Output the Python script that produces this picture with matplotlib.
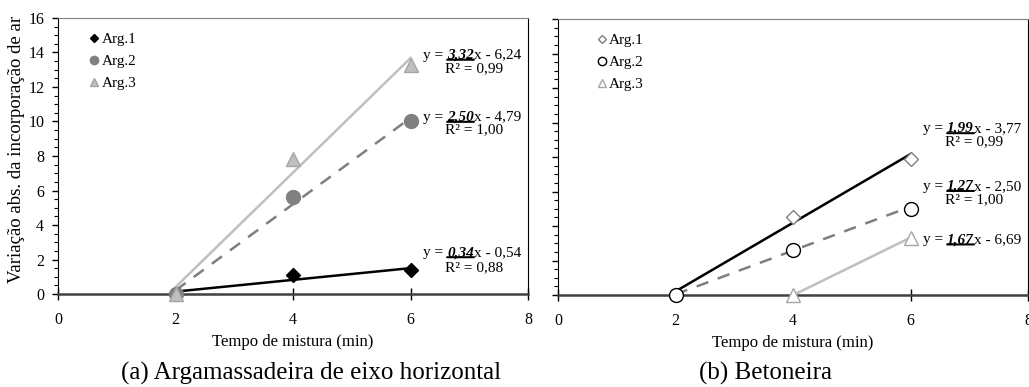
import numpy as np
import matplotlib
matplotlib.use("Agg")
import matplotlib.pyplot as plt
from matplotlib.ticker import MultipleLocator

plt.rcParams['font.family'] = ['Liberation Serif', 'DejaVu Serif']

# tempo de mistura (min)
tempo = [2, 4, 6]

# (a) argamassadeira de eixo horizontal
a_arg1 = [0.0, 1.1, 1.4]
a_arg2 = [0.0, 5.6, 10.0]
a_arg3 = [0.0, 7.8, 13.3]
a_slope = [0.34, 2.50, 3.32]
a_inter = [-0.54, -4.79, -6.24]
a_r2 = ["0,88", "1,00", "0,99"]

# (b) betoneira
b_arg1 = [0.0, 4.5, 7.9]
b_arg2 = [0.0, 2.6, 5.0]
b_arg3 = [np.nan, 0.0, 3.3]
b_slope = [1.99, 1.27, 1.67]
b_inter = [-3.77, -2.50, -6.69]
b_r2 = ["0,99", "1,00", None]

nomes = ["Arg.1", "Arg.2", "Arg.3"]

# estilos
line_col = ["black", "#7f7f7f", "#bfbfbf"]
line_ls = ["-", (0, (5, 4)), "-"]
a_mk = [dict(marker='D', ms=7, mfc='black', mec='black'),
        dict(marker='o', ms=10, mfc='#808080', mec='#808080'),
        dict(marker='^', ms=10, mfc='#bfbfbf', mec='#a6a6a6')]
b_mk = [dict(marker='D', ms=7, mfc='white', mec='#808080', mew=1),
        dict(marker='o', ms=10, mfc='white', mec='black', mew=1),
        dict(marker='^', ms=10, mfc='white', mec='#a6a6a6', mew=1)]

FS = 11


def fmt(v):
    return ("%.2f" % v).replace('.', ',')


def equation(ax, xc, y, slope, inter, size=FS):
    s = ax.text(xc, y, fmt(slope), ha='center', va='baseline', fontsize=size,
                fontweight='bold', fontstyle='italic')
    ax.annotate("y = ", xy=(0, 0), xycoords=s, ha='right', va='bottom', fontsize=size)
    sign = '-' if inter < 0 else '+'
    ax.annotate("x %s %s" % (sign, fmt(abs(inter))), xy=(1, 0), xycoords=s,
                ha='left', va='bottom', fontsize=size)
    # sublinhado do coeficiente
    ax.annotate('', xy=(1, 0.14), xycoords=s, xytext=(0, 0.14), textcoords=s,
                arrowprops=dict(arrowstyle='-', lw=1.5, color='black',
                                shrinkA=0, shrinkB=0))


def setup(ax, ylabels=True):
    ax.set_xlim(0, 8)
    ax.set_ylim(0, 16)
    ax.xaxis.set_major_locator(MultipleLocator(2))
    ax.yaxis.set_major_locator(MultipleLocator(2))
    ax.yaxis.set_minor_locator(MultipleLocator(0.5))
    ax.tick_params(axis='y', which='major', direction='out', length=4, width=1, labelsize=11.5, pad=6)
    ax.tick_params(axis='y', which='minor', direction='out', length=3, width=0.8)
    ax.tick_params(axis='x', which='major', direction='inout', length=8, width=1, labelsize=11.5, pad=9)
    if not ylabels:
        ax.set_yticklabels([])
    ax.spines['top'].set_color('#808080')
    ax.spines['bottom'].set_color('#404040')
    ax.spines['bottom'].set_linewidth(1.8)
    ax.spines['left'].set_color('black')
    ax.spines['right'].set_color('black')
    ax.set_xlabel("Tempo de mistura (min)", fontsize=12)
    ax.xaxis.set_label_coords(0.5, -0.145)


def panel(ax, series, slopes, inters, r2s, mks, eq_pos, leg_x):
    handles = []
    x = np.array(tempo, dtype=float)
    for i, yv in enumerate(series):
        yv = np.array(yv, dtype=float)
        ok = ~np.isnan(yv)
        xs = x[ok]
        xr = np.array([xs.min(), xs.max()])
        ax.plot(xr, slopes[i] * xr + inters[i], color=line_col[i], ls=line_ls[i],
                lw=1.8, zorder=2)
        h, = ax.plot(xs, yv[ok], ls='none', zorder=3, clip_on=False, **mks[i])
        handles.append(h)
        ey, ry = eq_pos[i]
        equation(ax, 6.85, ey, slopes[i], inters[i])
        if r2s[i] is not None:
            ax.text(7.08, ry, "R² = %s" % r2s[i], ha='center', va='baseline', fontsize=FS)
    ax.legend(handles, nomes, loc='upper left', bbox_to_anchor=(leg_x, 0.97),
              frameon=False, fontsize=FS, markerscale=0.6, handlelength=0.6,
              handletextpad=0.18, labelspacing=0.55, borderaxespad=0)


fig = plt.figure(figsize=(10.29, 3.87), dpi=100)
ax1 = fig.add_axes([0.0564, 0.2403, 0.4568, 0.7132])
ax2 = fig.add_axes([0.5423, 0.2377, 0.4568, 0.7132])

setup(ax1, True)
setup(ax2, False)

panel(ax1, [a_arg1, a_arg2, a_arg3], a_slope, a_inter, a_r2, a_mk,
      [(2.2, 1.35), (10.05, 9.3), (13.65, 12.85)], 0.054)
panel(ax2, [b_arg1, b_arg2, b_arg3], b_slope, b_inter, b_r2, b_mk,
      [(9.45, 8.7), (6.1, 5.3), (3.0, None)], 0.07)

ax1.set_ylabel("Variação abs. da incorporação de ar", fontsize=13.5)
ax1.yaxis.set_label_coords(-0.07, 0.525)

fig.text(0.302, 0.036, "(a) Argamassadeira de eixo horizontal", ha='center', va='center', fontsize=18)
fig.text(0.744, 0.036, "(b) Betoneira", ha='center', va='center', fontsize=18)

fig.savefig("out.png", dpi=100)
